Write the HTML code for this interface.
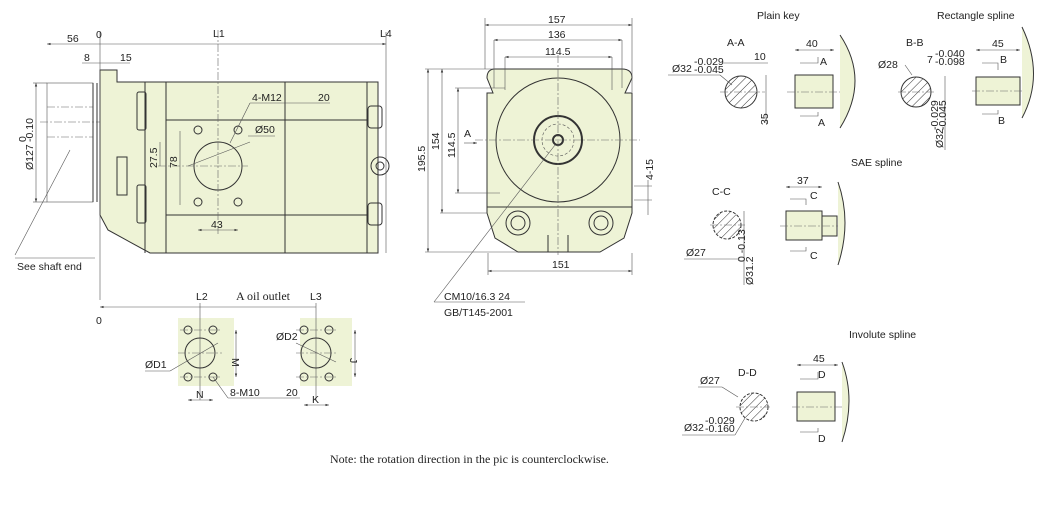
<!DOCTYPE html>
<html><head><meta charset="utf-8"><style>
html,body{margin:0;padding:0;background:#fff;}
svg{display:block}
text{font-family:"Liberation Sans",sans-serif;font-size:10.5px;fill:#222}
.s{stroke:#333;stroke-width:1;fill:none}
.t{stroke:#555;stroke-width:.6;fill:none}
.c{stroke:#666;stroke-width:.6;fill:none;stroke-dasharray:8 2 2 2}
.f{fill:#eef3d6;stroke:#333;stroke-width:1}
.h{stroke:#333;stroke-width:.7}
</style></head><body>
<svg width="1060" height="516" viewBox="0 0 1060 516" xmlns="http://www.w3.org/2000/svg">
<defs>
<pattern id="hp" width="6" height="6" patternUnits="userSpaceOnUse" patternTransform="rotate(45)"><line x1="0" y1="0" x2="0" y2="6" stroke="#333" stroke-width="1"/></pattern>
<marker id="a" markerWidth="6" markerHeight="6" refX="6" refY="3" orient="auto-start-reverse"><path d="M0,1 L6,3 L0,5z" fill="#333"/></marker>
</defs>

<!-- ===== Side view ===== -->
<rect x="47" y="83" width="46" height="119" class="t"/>
<line x1="47" y1="107" x2="93" y2="107" class="c"/>
<line x1="47" y1="137" x2="93" y2="137" class="c"/>
<line x1="40" y1="122" x2="110" y2="122" class="c"/>
<path d="M100,70 L117,70 L117,82 L378,82 L378,253 L150,253 L108,230 L100,215 Z" class="f"/>
<line x1="93" y1="83" x2="93" y2="202" class="s"/>
<line x1="97" y1="83" x2="97" y2="202" class="s"/>
<rect x="117" y="157" width="10" height="38" class="s"/>
<rect x="137" y="92" width="9" height="38" class="s" rx="2"/>
<rect x="137" y="185" width="9" height="38" class="s" rx="2"/>
<line x1="145" y1="82" x2="145" y2="253" class="s"/>
<line x1="166" y1="82" x2="166" y2="253" class="s"/>
<line x1="166" y1="120" x2="367" y2="120" class="s"/>
<line x1="166" y1="215" x2="367" y2="215" class="s"/>
<line x1="285" y1="82" x2="285" y2="253" class="s"/>
<line x1="367" y1="82" x2="367" y2="253" class="s"/>
<rect x="368" y="106" width="14" height="22" class="s" rx="3"/>
<rect x="368" y="203" width="14" height="22" class="s" rx="3"/>
<circle cx="380" cy="166" r="9" class="s"/><circle cx="380" cy="166" r="4" class="s"/>
<circle cx="218" cy="166" r="24" class="s"/>
<line x1="218" y1="30" x2="218" y2="236" class="c"/>
<line x1="158" y1="166" x2="248" y2="166" class="c"/>
<g class="s"><circle cx="198" cy="130" r="4"/><circle cx="238" cy="130" r="4"/><circle cx="198" cy="202" r="4"/><circle cx="238" cy="202" r="4"/></g>
<line x1="188" y1="166" x2="250" y2="142" class="t"/>
<line x1="230" y1="143" x2="250" y2="103" class="t"/><line x1="250" y1="103" x2="330" y2="103" class="t"/>
<text x="252" y="101">4-M12</text><text x="318" y="101">20</text>
<text x="255" y="133">Ø50</text><line x1="248" y1="136" x2="275" y2="136" class="t"/>
<line x1="180" y1="131" x2="180" y2="205" class="t"/>
<text transform="translate(177,168) rotate(-90)">78</text>
<line x1="160" y1="142" x2="160" y2="166" class="t"/>
<text transform="translate(157,168) rotate(-90)">27.5</text>
<line x1="198" y1="230" x2="238" y2="230" class="t" marker-start="url(#a)" marker-end="url(#a)"/>
<text x="211" y="228">43</text>
<!-- top dims -->
<line x1="100" y1="32" x2="100" y2="300" class="t"/>
<line x1="47" y1="44" x2="386" y2="44" class="t" marker-start="url(#a)" marker-end="url(#a)"/>
<line x1="386" y1="32" x2="386" y2="253" class="t"/>
<text x="67" y="42">56</text><text x="96" y="38">0</text><text x="213" y="37">L1</text><text x="380" y="37">L4</text>
<line x1="82" y1="63" x2="130" y2="63" class="t"/>
<text x="84" y="61">8</text><text x="120" y="61">15</text>
<line x1="33" y1="83" x2="47" y2="83" class="t"/><line x1="33" y1="202" x2="47" y2="202" class="t"/>
<line x1="36" y1="83" x2="36" y2="202" class="t" marker-start="url(#a)" marker-end="url(#a)"/>
<text transform="translate(33,170) rotate(-90)">Ø127</text>
<text transform="translate(26,142) rotate(-90)" font-size="7">0</text>
<text transform="translate(33,142) rotate(-90)" font-size="7">-0.10</text>
<line x1="15" y1="255" x2="70" y2="150" class="t"/><line x1="15" y1="258" x2="95" y2="258" class="t"/>
<text x="17" y="270">See shaft end</text>
<!-- oil outlet -->
<line x1="100" y1="307" x2="316" y2="307" class="t" marker-start="url(#a)"/>
<text x="96" y="324">0</text><text x="196" y="300">L2</text><text x="236" y="300" style="font-family:'Liberation Serif',serif;font-size:12px">A  oil outlet</text><text x="310" y="300">L3</text>
<rect x="178" y="318" width="56" height="68" fill="#eef3d6"/>
<rect x="300" y="318" width="52" height="68" fill="#eef3d6"/>
<line x1="200" y1="303" x2="200" y2="400" class="t"/>
<line x1="316" y1="303" x2="316" y2="400" class="t"/>
<circle cx="200" cy="353" r="15" class="s"/><circle cx="316" cy="353" r="15" class="s"/>
<line x1="178" y1="353" x2="222" y2="353" class="c"/><line x1="296" y1="353" x2="338" y2="353" class="c"/>
<g class="s"><circle cx="188" cy="330" r="4"/><circle cx="213" cy="330" r="4"/><circle cx="188" cy="377" r="4"/><circle cx="213" cy="377" r="4"/>
<circle cx="304" cy="330" r="4"/><circle cx="329" cy="330" r="4"/><circle cx="304" cy="377" r="4"/><circle cx="329" cy="377" r="4"/></g>
<g class="c"><line x1="180" y1="330" x2="221" y2="330"/><line x1="180" y1="377" x2="221" y2="377"/><line x1="296" y1="330" x2="337" y2="330"/><line x1="296" y1="377" x2="337" y2="377"/></g>
<line x1="236" y1="330" x2="236" y2="377" class="t" marker-start="url(#a)" marker-end="url(#a)"/>
<text transform="translate(232,358) rotate(90)">M</text>
<line x1="355" y1="330" x2="355" y2="377" class="t" marker-start="url(#a)" marker-end="url(#a)"/>
<text transform="translate(350,358) rotate(90)">J</text>
<line x1="188" y1="400" x2="213" y2="400" class="t" marker-start="url(#a)" marker-end="url(#a)"/><text x="196" y="398">N</text>
<line x1="304" y1="405" x2="329" y2="405" class="t" marker-start="url(#a)" marker-end="url(#a)"/><text x="312" y="403">K</text>
<text x="145" y="368">ØD1</text><line x1="145" y1="371" x2="170" y2="371" class="t"/><line x1="170" y1="371" x2="218" y2="343" class="t"/>
<text x="276" y="340">ØD2</text><line x1="296" y1="343" x2="336" y2="362" class="t"/>
<line x1="213" y1="377" x2="228" y2="398" class="t"/><line x1="228" y1="398" x2="300" y2="398" class="t"/>
<text x="230" y="396">8-M10</text><text x="286" y="396">20</text>

<!-- ===== Front view ===== -->
<path d="M495,69 L622,69 Q632,69 632,78 L625,93 L632,93 L632,213 L624,238 L600,252 L518,252 L495,238 L487,213 L487,93 L493,93 L487,78 Q487,69 495,69Z" class="f"/>
<circle cx="558" cy="140" r="62" class="s"/>
<circle cx="558" cy="140" r="24" class="s" style="stroke-width:2"/>
<circle cx="558" cy="140" r="16" class="t" stroke-dasharray="3 2"/>
<circle cx="558" cy="140" r="5" class="s" style="stroke-width:2"/>
<circle cx="518" cy="223" r="12" class="s"/><circle cx="518" cy="223" r="7" class="s"/>
<circle cx="601" cy="223" r="12" class="s"/><circle cx="601" cy="223" r="7" class="s"/>
<path d="M548,235 L548,252 M568,235 L568,252" class="s"/>
<line x1="487" y1="207" x2="632" y2="207" class="s"/>
<line x1="558" y1="55" x2="558" y2="255" class="c"/>
<line x1="475" y1="140" x2="640" y2="140" class="c"/>
<line x1="485" y1="18" x2="485" y2="69" class="t"/><line x1="632" y1="18" x2="632" y2="92" class="t"/>
<line x1="485" y1="25" x2="632" y2="25" class="t" marker-start="url(#a)" marker-end="url(#a)"/><text x="548" y="23">157</text>
<line x1="494" y1="40" x2="622" y2="40" class="t" marker-start="url(#a)" marker-end="url(#a)"/><text x="548" y="38">136</text>
<line x1="505" y1="57" x2="612" y2="57" class="t" marker-start="url(#a)" marker-end="url(#a)"/><text x="545" y="55">114.5</text>
<line x1="494" y1="40" x2="494" y2="88" class="t"/><line x1="622" y1="40" x2="622" y2="88" class="t"/>
<line x1="505" y1="57" x2="505" y2="90" class="t"/><line x1="612" y1="57" x2="612" y2="90" class="t"/>
<line x1="428" y1="69" x2="428" y2="252" class="t" marker-start="url(#a)" marker-end="url(#a)"/>
<text transform="translate(425,172) rotate(-90)">195.5</text>
<line x1="442" y1="69" x2="442" y2="213" class="t" marker-start="url(#a)" marker-end="url(#a)"/>
<text transform="translate(439,150) rotate(-90)">154</text>
<line x1="458" y1="88" x2="458" y2="193" class="t" marker-start="url(#a)" marker-end="url(#a)"/>
<text transform="translate(455,158) rotate(-90)">114.5</text>
<line x1="425" y1="69" x2="495" y2="69" class="t"/><line x1="425" y1="252" x2="518" y2="252" class="t"/>
<line x1="440" y1="213" x2="487" y2="213" class="t"/><line x1="455" y1="88" x2="505" y2="88" class="t"/><line x1="455" y1="193" x2="500" y2="193" class="t"/>
<text x="464" y="137">A</text><line x1="464" y1="143" x2="477" y2="143" class="t" marker-end="url(#a)"/>
<line x1="488" y1="253" x2="488" y2="275" class="t"/><line x1="632" y1="253" x2="632" y2="275" class="t"/>
<line x1="488" y1="271" x2="632" y2="271" class="t" marker-start="url(#a)" marker-end="url(#a)"/><text x="552" y="268">151</text>
<line x1="648" y1="180" x2="648" y2="215" class="t"/><line x1="634" y1="186" x2="652" y2="186" class="t"/><line x1="634" y1="200" x2="652" y2="200" class="t"/>
<text transform="translate(653,180) rotate(-90)">4-15</text>
<line x1="555" y1="145" x2="434" y2="302" class="t"/><line x1="434" y1="302" x2="525" y2="302" class="t"/>
<text x="444" y="300">CM10/16.3    24</text><text x="444" y="316">GB/T145-2001</text>

<!-- ===== Plain key ===== -->
<text x="757" y="19" font-size="11">Plain key</text>
<text x="727" y="46">A-A</text>
<circle cx="741" cy="92" r="16" fill="url(#hp)" stroke="#333"/>
<line x1="720" y1="92" x2="765" y2="92" class="c"/>
<text x="672" y="72">Ø32</text><text x="694" y="65" font-size="7">-0.029</text><text x="694" y="73" font-size="7">-0.045</text>
<line x1="668" y1="75" x2="720" y2="75" class="t"/><line x1="720" y1="75" x2="732" y2="85" class="t"/>
<line x1="722" y1="63" x2="768" y2="63" class="t"/><text x="754" y="60">10</text>
<line x1="766" y1="75" x2="766" y2="123" class="t"/><text transform="translate(768,125) rotate(-90)">35</text>
<path d="M795,75 L833,75 L833,108 L795,108 Z" class="f"/>
<line x1="787" y1="92" x2="840" y2="92" class="c"/>
<path d="M840,35 Q870,80 840,128" class="f"/>
<line x1="795" y1="50" x2="834" y2="50" class="t" marker-start="url(#a)" marker-end="url(#a)"/><text x="806" y="47">40</text>
<path d="M800,63 L818,63 L818,57" class="t"/><text x="820" y="65">A</text>
<path d="M800,116 L818,116 L818,112" class="t"/><text x="818" y="126">A</text>

<!-- ===== Rectangle spline ===== -->
<text x="937" y="19" font-size="11">Rectangle spline</text>
<text x="906" y="46">B-B</text>
<circle cx="916" cy="92" r="15" fill="url(#hp)" stroke="#333"/>
<line x1="898" y1="92" x2="935" y2="92" class="c"/>
<text x="878" y="68">Ø28</text><line x1="905" y1="65" x2="912" y2="75" class="t"/>
<text x="927" y="63">7</text><text x="935" y="57" font-size="7">-0.040</text><text x="935" y="65" font-size="7">-0.098</text>
<line x1="945" y1="76" x2="945" y2="150" class="t"/>
<text transform="translate(943,148) rotate(-90)">Ø32</text>
<text transform="translate(938,130) rotate(-90)" font-size="7">-0.029</text>
<text transform="translate(946,130) rotate(-90)" font-size="7">-0.045</text>
<rect x="976" y="77" width="44" height="28" class="f"/>
<line x1="972" y1="91" x2="1030" y2="91" class="c"/>
<path d="M1022,27 Q1045,75 1022,118" class="f"/>
<line x1="976" y1="50" x2="1020" y2="50" class="t" marker-start="url(#a)" marker-end="url(#a)"/><text x="992" y="47">45</text>
<path d="M982,63 L998,63 L998,70" class="t"/><text x="1000" y="63">B</text>
<path d="M982,114 L998,114 L998,110" class="t"/><text x="998" y="124">B</text>

<!-- ===== SAE spline ===== -->
<text x="851" y="166" font-size="11">SAE spline</text>
<text x="712" y="195">C-C</text>
<circle cx="727" cy="225" r="14" fill="url(#hp)" stroke="#333" stroke-dasharray="3 1.5"/>
<line x1="710" y1="225" x2="745" y2="225" class="c"/>
<line x1="744" y1="211" x2="744" y2="285" class="t"/>
<text transform="translate(753,285) rotate(-90)">Ø31.2</text>
<text transform="translate(745,262) rotate(-90)" font-size="7">0 -0.13</text>
<line x1="684" y1="259" x2="740" y2="259" class="t"/><text x="686" y="256">Ø27</text>
<rect x="786" y="211" width="36" height="29" class="f"/>
<rect x="822" y="216" width="15" height="20" class="f"/>
<line x1="780" y1="226" x2="840" y2="226" class="c"/>
<path d="M838,182 Q852,222 838,265" class="f"/>
<line x1="786" y1="187" x2="822" y2="187" class="t" marker-start="url(#a)" marker-end="url(#a)"/><text x="797" y="184">37</text>
<path d="M790,199 L806,199 L806,205" class="t"/><text x="810" y="199">C</text>
<path d="M790,251 L806,251 L806,247" class="t"/><text x="810" y="259">C</text>

<!-- ===== Involute spline ===== -->
<text x="849" y="338" font-size="11">Involute spline</text>
<text x="738" y="376">D-D</text>
<circle cx="754" cy="407" r="14" fill="url(#hp)" stroke="#333" stroke-dasharray="3 1.5"/>
<line x1="736" y1="407" x2="770" y2="407" class="c"/>
<text x="700" y="384">Ø27</text><line x1="698" y1="387" x2="722" y2="387" class="t"/><line x1="722" y1="387" x2="738" y2="397" class="t"/>
<text x="684" y="431">Ø32</text><text x="705" y="424" font-size="7">-0.029</text><text x="705" y="432" font-size="7">-0.160</text>
<line x1="682" y1="435" x2="735" y2="435" class="t"/><line x1="735" y1="435" x2="745" y2="418" class="t"/>
<rect x="797" y="392" width="38" height="29" class="f"/>
<line x1="792" y1="407" x2="845" y2="407" class="c"/>
<path d="M842,362 Q856,400 842,442" class="f"/>
<line x1="797" y1="365" x2="838" y2="365" class="t" marker-start="url(#a)" marker-end="url(#a)"/><text x="813" y="362">45</text>
<path d="M800,379 L818,379 L818,372" class="t"/><text x="818" y="378">D</text>
<path d="M800,432 L818,432 L818,428" class="t"/><text x="818" y="442">D</text>

<text x="330" y="463" style="font-family:'Liberation Serif',serif;font-size:12px">Note: the rotation direction in the pic is counterclockwise.</text>
</svg>
</body></html>
